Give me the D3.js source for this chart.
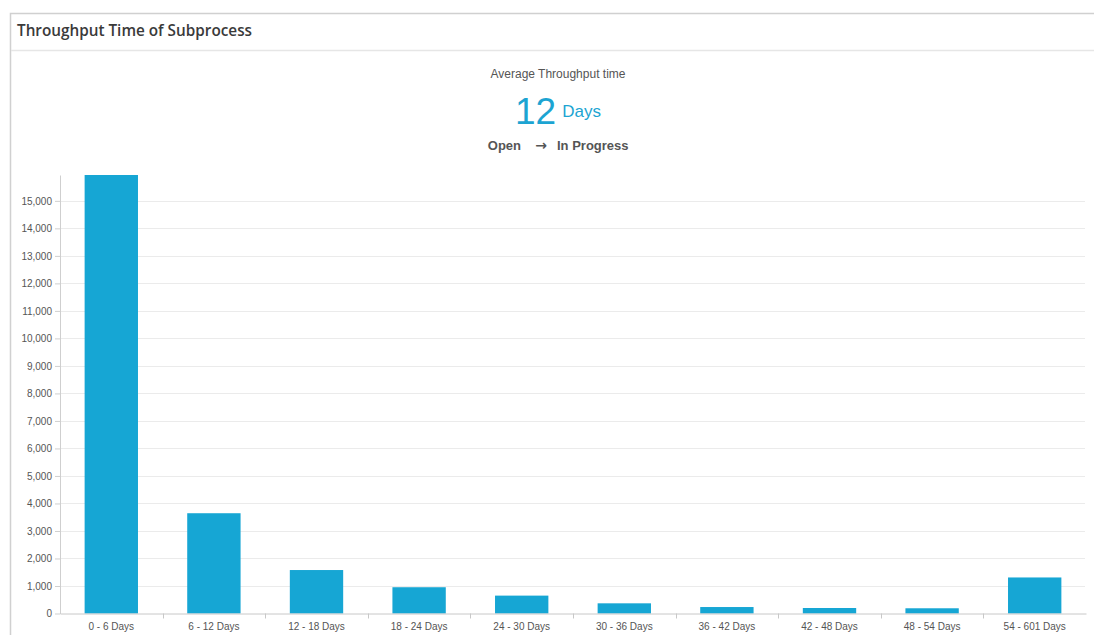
<!DOCTYPE html>
<html>
<head>
<meta charset="utf-8">
<script src="https://cdn.jsdelivr.net/npm/d3@7/dist/d3.min.js"></script>
<style>
  html, body { margin: 0; padding: 0; background: #ffffff; }
  svg { display: block; }
</style>
</head>
<body>
<svg id="chart" width="1094" height="635"></svg>
<script>
// Throughput time buckets and the number of cases in each
const categories = ["0 - 6 Days", "6 - 12 Days", "12 - 18 Days", "18 - 24 Days", "24 - 30 Days",
                    "30 - 36 Days", "36 - 42 Days", "42 - 48 Days", "48 - 54 Days", "54 - 601 Days"];
const caseCounts = [15940, 3645, 1580, 955, 650, 370, 235, 200, 190, 1310];
const yTickValues = [0, 1000, 2000, 3000, 4000, 5000, 6000, 7000, 8000, 9000, 10000,
                     11000, 12000, 13000, 14000, 15000];

const panelTitle = "Throughput Time of Subprocess";
const kpiCaption = "Average Throughput time";
const kpiValue = 12;
const kpiUnit = "Days";
const fromState = "Open";
const toState = "In Progress";

const svg = d3.select("#chart");
const W = 1094, H = 635;

// Panel frame
svg.append("rect").attr("x", 10.5).attr("y", 13.5).attr("width", W + 20).attr("height", H + 20)
  .attr("fill", "#fff").attr("stroke", "#d0d0d0").attr("stroke-width", 1.5);
svg.append("line").attr("x1", 11).attr("x2", W).attr("y1", 50.5).attr("y2", 50.5)
  .attr("stroke", "#e6e6e6").attr("stroke-width", 1.5);

svg.append("text").attr("x", 17).attr("y", 36)
  .attr("font-family", "'Open Sans', sans-serif").attr("font-weight", 600)
  .attr("font-size", 15.3).attr("fill", "#3a3a3a").text(panelTitle);

// KPI header
const cx = 558;
svg.append("text").attr("x", cx).attr("y", 78).attr("text-anchor", "middle")
  .attr("font-family", "'Liberation Sans', Arial, sans-serif").attr("font-size", 12)
  .attr("fill", "#555").text(kpiCaption);

const kpi = svg.append("text").attr("x", cx).attr("y", 124).attr("text-anchor", "middle")
  .attr("font-family", "'Liberation Sans', Arial, sans-serif").attr("fill", "#1ca4d2");
kpi.append("tspan").attr("font-size", 37).text(kpiValue);
kpi.append("tspan").attr("font-size", 17).attr("dx", 6).attr("dy", -7).text(kpiUnit);

const flow = svg.append("g").attr("font-family", "'Liberation Sans', Arial, sans-serif")
  .attr("font-weight", "bold").attr("font-size", 13).attr("fill", "#555");
flow.append("text").attr("x", 521).attr("y", 150).attr("text-anchor", "end").text(fromState);
flow.append("text").attr("x", 541).attr("y", 150).attr("text-anchor", "middle")
  .attr("font-family", "'DejaVu Sans', sans-serif").attr("font-size", 14).text("\u2192");
flow.append("text").attr("x", 557).attr("y", 150).attr("text-anchor", "start").text(toState);

// Chart area
const margin = { left: 60, right: 1086, top: 175, bottom: 613.5 };

const x = d3.scaleBand().domain(categories)
  .range([margin.left, margin.right]).paddingInner(0.48).paddingOuter(0.24);
const y = d3.scaleLinear().domain([0, d3.max(caseCounts)])
  .range([margin.bottom, margin.top]);

// Gridlines
svg.append("g").selectAll("line").data(yTickValues.slice(1)).join("line")
  .attr("x1", margin.left).attr("x2", margin.right - 1)
  .attr("y1", d => Math.round(y(d)) + 0.5).attr("y2", d => Math.round(y(d)) + 0.5)
  .attr("stroke", "#ebebeb").attr("stroke-width", 1);

// Bars
svg.append("g").selectAll("rect").data(caseCounts).join("rect")
  .attr("x", (d, i) => x(categories[i]))
  .attr("width", x.bandwidth())
  .attr("y", d => y(d))
  .attr("height", d => y(0) - y(d))
  .attr("fill", "#16a6d4");

// Y axis
const yAxis = svg.append("g").attr("transform", `translate(${margin.left},0)`)
  .call(d3.axisLeft(y).tickValues(yTickValues).tickFormat(d3.format(",")).tickSize(5).tickPadding(3).tickSizeOuter(0));
yAxis.select(".domain").attr("stroke", "#cfcfcf");
yAxis.selectAll(".tick line").attr("stroke", "#cfcfcf");
yAxis.selectAll("text").attr("font-family", "'Liberation Sans', Arial, sans-serif")
  .attr("font-size", 10).attr("fill", "#555");

// X axis with ticks on band boundaries
const xAxis = svg.append("g").attr("transform", `translate(0,${margin.bottom})`)
  .call(d3.axisBottom(x).tickSize(0).tickPadding(9));
xAxis.select(".domain").attr("stroke", "#c8c8c8");
xAxis.selectAll("text").attr("font-family", "'Liberation Sans', Arial, sans-serif")
  .attr("font-size", 10).attr("fill", "#555");
const bounds = categories.slice(1).map(c => x(c) - x.step() * x.paddingInner() / 2);
xAxis.append("g").selectAll("line").data(bounds).join("line")
  .attr("x1", d => Math.round(d) + 0.5).attr("x2", d => Math.round(d) + 0.5)
  .attr("y1", 0).attr("y2", 5).attr("stroke", "#c8c8c8");
</script>
</body>
</html>
